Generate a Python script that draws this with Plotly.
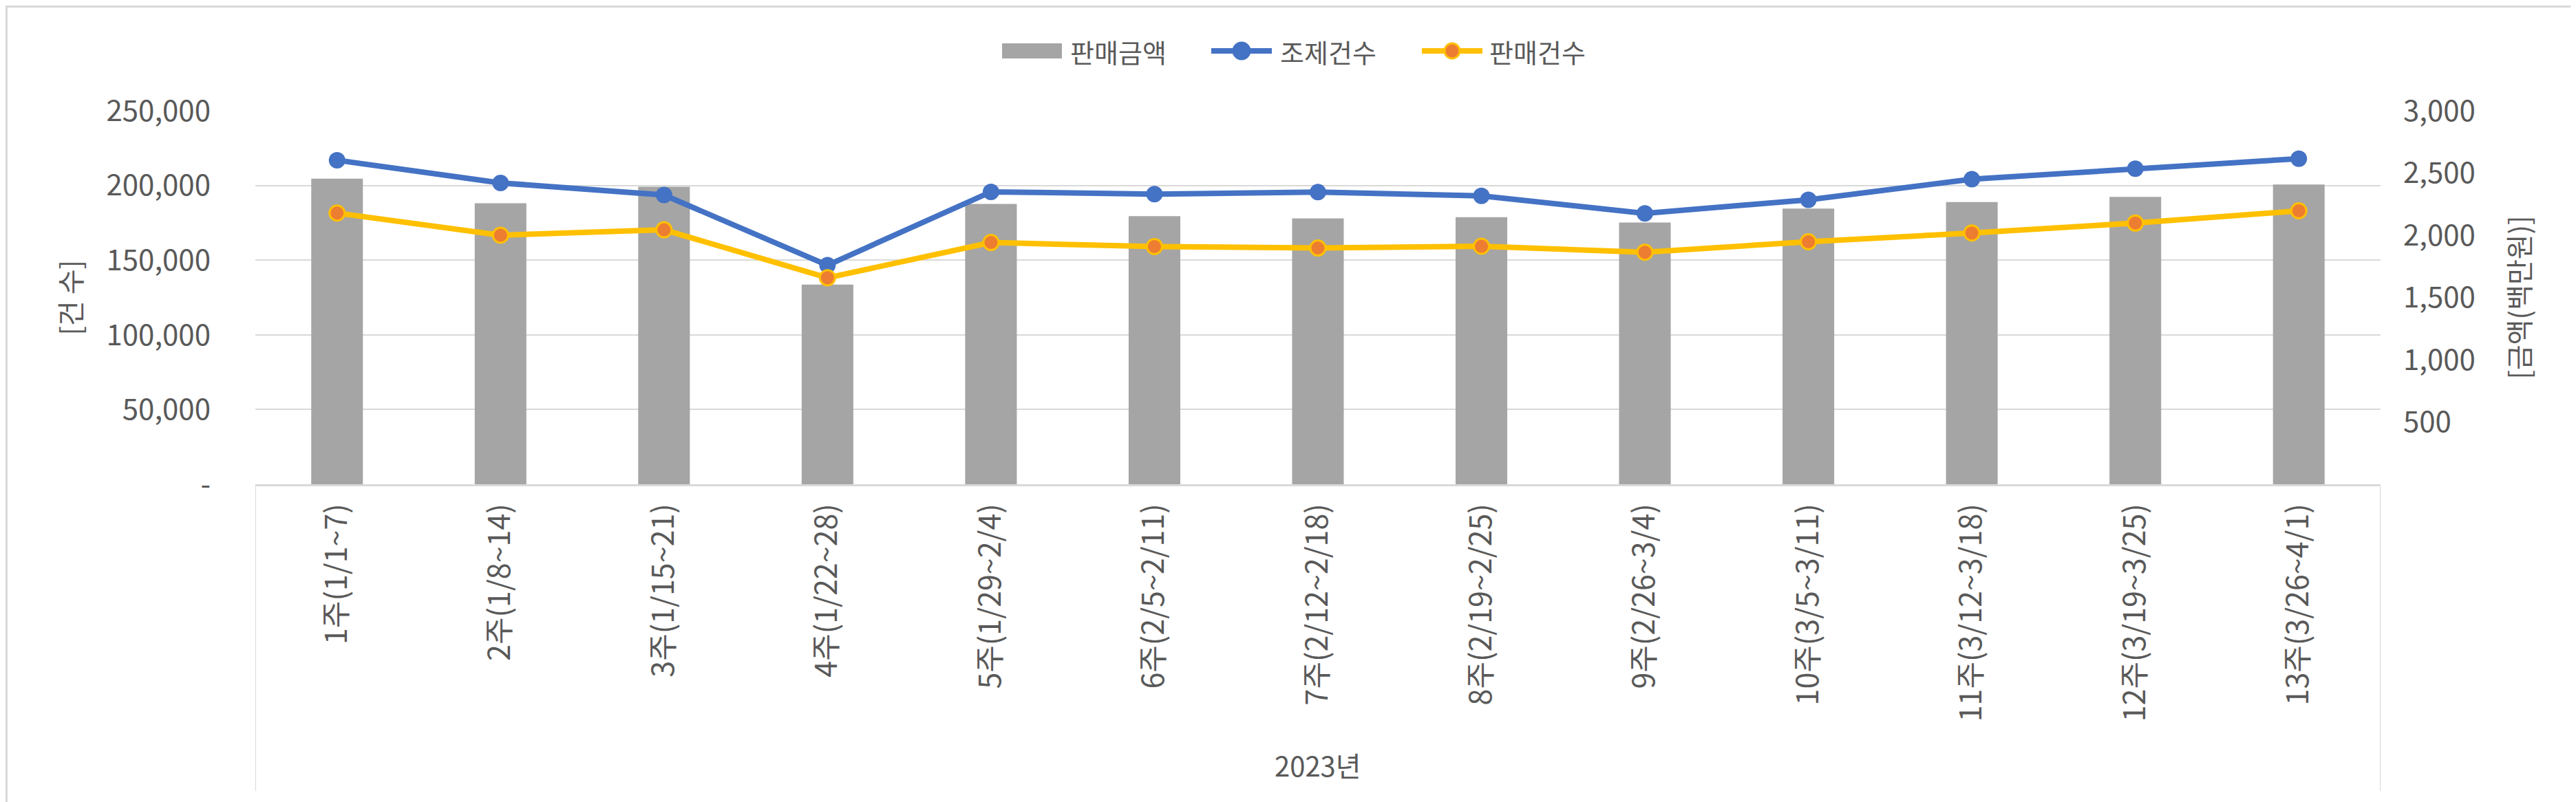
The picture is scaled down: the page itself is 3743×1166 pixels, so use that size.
import plotly.graph_objects as go

# ---- data ----
year_label = "2023년"
categories = ["1주(1/1~7)", "2주(1/8~14)", "3주(1/15~21)", "4주(1/22~28)",
              "5주(1/29~2/4)", "6주(2/5~2/11)", "7주(2/12~2/18)", "8주(2/19~2/25)",
              "9주(2/26~3/4)", "10주(3/5~3/11)", "11주(3/12~3/18)", "12주(3/19~3/25)",
              "13주(3/26~4/1)"]
sales_amount = [2455, 2257, 2389, 1604, 2252, 2153, 2135, 2145, 2102, 2214, 2267, 2308, 2407]
dispense_count = [216900, 201700, 193600, 146600, 195700, 194200, 195500, 193000,
                  181300, 190400, 204200, 211200, 217900]
sales_count = [181500, 166700, 170300, 138200, 161800, 159100, 158100, 159300,
               155300, 162300, 168200, 174800, 183000]
series_names = ["판매금액", "조제건수", "판매건수"]
left_title = "[건 수]"
right_title = "[금액(백만원)]"

left_tickvals = [0, 50000, 100000, 150000, 200000, 250000]
left_ticktext = ["-", "50,000", "100,000", "150,000", "200,000", "250,000"]
right_tickvals = [500, 1000, 1500, 2000, 2500, 3000]
right_ticktext = ["500", "1,000", "1,500", "2,000", "2,500", "3,000"]

# ---- styling ----
W, H = 3743, 1166
L, R, T, B = 363, 292, 153, 470
FONT = "Noto Sans CJK KR"
TXT = "#595959"
GRID = "#D9D9D9"
FS = 42
BAR_C = "#A5A5A5"
BLUE = "#4472C4"
YEL = "#FFC000"
ORG = "#ED7D31"

pw = W - L - R
ph = H - T - B


def px_x(p):
    return (p - L) / pw


def px_y(p):
    return (H - B - p) / ph


fig = go.Figure()
# bars on the primary axis (drawn first / underneath), shown on the right side
fig.add_trace(go.Bar(
    x=categories, y=sales_amount, name=series_names[0], yaxis="y",
    marker=dict(color=BAR_C, line=dict(width=0)),
))
# lines on the overlaying axis (drawn on top), shown on the left side
fig.add_trace(go.Scatter(
    x=categories, y=dispense_count, name=series_names[1], mode="lines+markers", yaxis="y2",
    line=dict(color=BLUE, width=8),
    marker=dict(color=BLUE, size=24, line=dict(color=BLUE, width=0)),
))
fig.add_trace(go.Scatter(
    x=categories, y=sales_count, name=series_names[2], mode="lines+markers", yaxis="y2",
    line=dict(color=YEL, width=8),
    marker=dict(color=ORG, size=22, line=dict(color=YEL, width=3)),
))

shapes = []
annotations = []

# ---- custom legend (layout decoration) ----
leg_y = 66
shapes.append(dict(type="rect", xref="paper", yref="paper",
                   x0=px_x(1448), x1=px_x(1535), y0=px_y(77), y1=px_y(55),
                   line=dict(width=0), fillcolor=BAR_C))
annotations.append(dict(text=series_names[0], xref="paper", yref="paper",
                        x=px_x(1545), y=px_y(leg_y), xanchor="left", yanchor="middle",
                        showarrow=False, font=dict(size=38, color=TXT)))
for (x0, x1, tx, col, mcol, mline, msz, name) in [
        (1748, 1844, 1850, BLUE, BLUE, BLUE, 24, series_names[1]),
        (2054, 2150, 2154, YEL, ORG, YEL, 22, series_names[2])]:
    shapes.append(dict(type="line", xref="paper", yref="paper",
                       x0=px_x(x0 + 4), x1=px_x(x1 - 4), y0=px_y(leg_y), y1=px_y(leg_y),
                       line=dict(color=col, width=8)))
    cx = (x0 + x1) / 2
    r = msz / 2
    shapes.append(dict(type="circle", xref="paper", yref="paper",
                       x0=px_x(cx - r), x1=px_x(cx + r), y0=px_y(leg_y + r), y1=px_y(leg_y - r),
                       line=dict(color=mline, width=3), fillcolor=mcol))
    annotations.append(dict(text=name, xref="paper", yref="paper",
                            x=px_x(tx), y=px_y(leg_y), xanchor="left", yanchor="middle",
                            showarrow=False, font=dict(size=38, color=TXT)))

# ---- axis titles ----
annotations.append(dict(text=left_title, xref="paper", yref="paper",
                        x=px_x(92), y=0.5, xanchor="center", yanchor="middle",
                        textangle=-90, showarrow=False, font=dict(size=40, color=TXT)))
annotations.append(dict(text=right_title, xref="paper", yref="paper",
                        x=px_x(3650), y=0.5, xanchor="center", yanchor="middle",
                        textangle=-90, showarrow=False, font=dict(size=40, color=TXT)))

# ---- outer category level label + dividers ----
annotations.append(dict(text=year_label, xref="paper", yref="paper",
                        x=0.5, y=px_y(1104), xanchor="center", yanchor="middle",
                        showarrow=False, font=dict(size=40, color=TXT)))
for xv in [-0.5, len(categories) - 0.5]:
    shapes.append(dict(type="line", xref="x", yref="paper",
                       x0=xv, x1=xv, y0=0, y1=px_y(1142),
                       line=dict(color=GRID, width=2)))

# outer border
shapes.append(dict(type="rect", xref="paper", yref="paper",
                   x0=px_x(1.5), x1=px_x(W - 1.5), y0=px_y(H - 1.5), y1=px_y(1.5),
                   line=dict(color=GRID, width=3), fillcolor="rgba(0,0,0,0)", layer="below"))

fig.update_layout(
    width=W, height=H,
    margin=dict(l=L, r=R, t=T, b=B, autoexpand=False),
    paper_bgcolor="white", plot_bgcolor="white",
    font=dict(family=FONT, size=FS, color=TXT),
    bargap=0.684,
    showlegend=False,
    xaxis=dict(
        type="category", range=[-0.5, len(categories) - 0.5], autorange=False,
        showgrid=False, showline=True, linecolor=GRID, linewidth=3,
        tickangle=-90, ticks="", tickfont=dict(size=43, color=TXT),
        ticklabelstandoff=8,
    ),
    yaxis=dict(
        range=[0, 3000], tickvals=right_tickvals, ticktext=right_ticktext,
        side="right", showgrid=False, zeroline=False, showline=False,
        tickfont=dict(size=FS, color=TXT), ticks="", ticklabelstandoff=32,
    ),
    yaxis2=dict(
        range=[0, 250000], tickvals=left_tickvals, ticktext=left_ticktext,
        overlaying="y", side="left",
        showgrid=True, gridcolor=GRID, gridwidth=2, zeroline=False, showline=False,
        tickfont=dict(size=FS, color=TXT), ticks="", ticklabelstandoff=64,
    ),
    shapes=shapes,
    annotations=annotations,
)

fig.write_html("out.html")
